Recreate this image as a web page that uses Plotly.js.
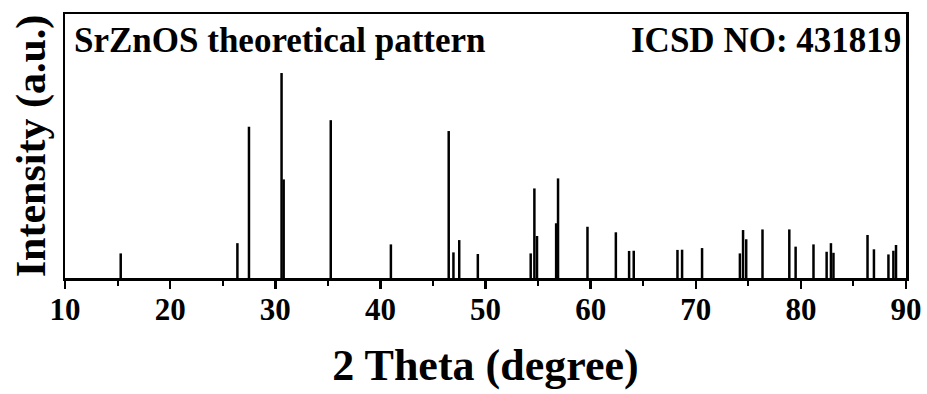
<!DOCTYPE html>
<html>
<head>
<meta charset="utf-8">
<script src="https://cdn.plot.ly/plotly-3.0.1.min.js"></script>
<style>html,body{margin:0;padding:0;background:#fff;}#chart{width:927px;height:394px;}</style>
</head>
<body>
<div id="chart"></div>
<script>
// Peak positions (2 theta, degree)
const twoTheta = [15.3, 26.4, 27.5, 30.6, 30.8, 35.28, 41.0, 46.5, 46.95, 47.5, 49.27, 54.3, 54.65, 54.9, 56.72, 56.9, 59.7, 62.4, 63.66, 64.1, 68.26, 68.7, 70.6, 74.2, 74.5, 74.8, 76.35, 78.9, 79.5, 81.2, 82.45, 82.86, 83.1, 86.34, 86.95, 88.33, 88.8, 89.05];
// Relative intensities (a.u.)
const intensity = [12, 17, 73.8, 100, 48.1, 77, 16.4, 71.7, 12.5, 18.5, 11.7, 12, 43.7, 20.5, 26.7, 48.6, 25, 22.3, 13.2, 13.3, 13.7, 13.8, 14.6, 12, 23.4, 18.9, 23.7, 23.7, 15.3, 16.4, 12.8, 17, 12.3, 21, 14, 11.5, 13.3, 16.1];
const xTicks = [10, 20, 30, 40, 50, 60, 70, 80, 90];
const labelLeft = "SrZnOS theoretical pattern";
const labelRight = "ICSD NO: 431819";

const xs = [], ys = [];
for (let i = 0; i < twoTheta.length; i++) {
  xs.push(twoTheta[i], twoTheta[i], null);
  ys.push(0, intensity[i], null);
}

const font = "Liberation Serif, Times New Roman, serif";
const trace = {
  type: 'scatter', mode: 'lines', x: xs, y: ys,
  line: {color: '#000', width: 2.5}, hoverinfo: 'skip', showlegend: false
};

const layout = {
  width: 927, height: 394,
  margin: {l: 65, r: 21, t: 14, b: 116},
  paper_bgcolor: '#fff', plot_bgcolor: '#fff',
  font: {family: font, color: '#000'},
  xaxis: {
    range: [10, 90], tickvals: xTicks, ticktext: xTicks.map(String),
    showgrid: false, zeroline: false,
    showline: true, linecolor: '#000', linewidth: 2.5, mirror: true,
    ticks: 'outside', ticklen: 8, tickwidth: 2.5, tickcolor: '#000',
    ticklabelstandoff: -6,
    minor: {dtick: 5, tick0: 15, ticks: 'outside', ticklen: 5, tickwidth: 2, tickcolor: '#000'},
    tickfont: {family: font, size: 31, weight: 'bold', color: '#000'},
    title: {text: '<b>2 Theta (degree)</b>', font: {family: font, size: 44, color: '#000'}, standoff: 24}
  },
  yaxis: {
    range: [0, 128.8], showticklabels: false, ticks: '',
    showgrid: false, zeroline: false,
    showline: true, linecolor: '#000', linewidth: 2.5, mirror: true,
    title: {text: '<b>Intensity (a.u.)</b>', font: {family: font, size: 42, color: '#000'}, standoff: 4}
  },
  annotations: [
    {xref: 'paper', yref: 'paper', x: 0.008, y: 0.9, xanchor: 'left', yanchor: 'middle',
     text: '<b>' + labelLeft + '</b>', showarrow: false, font: {family: font, size: 35, color: '#000'}},
    {xref: 'paper', yref: 'paper', x: 0.996, y: 0.9, xanchor: 'right', yanchor: 'middle',
     text: '<b>' + labelRight + '</b>', showarrow: false, font: {family: font, size: 35, color: '#000'}}
  ]
};

Plotly.newPlot('chart', [trace], layout, {displayModeBar: false, staticPlot: true});
</script>
</body>
</html>
